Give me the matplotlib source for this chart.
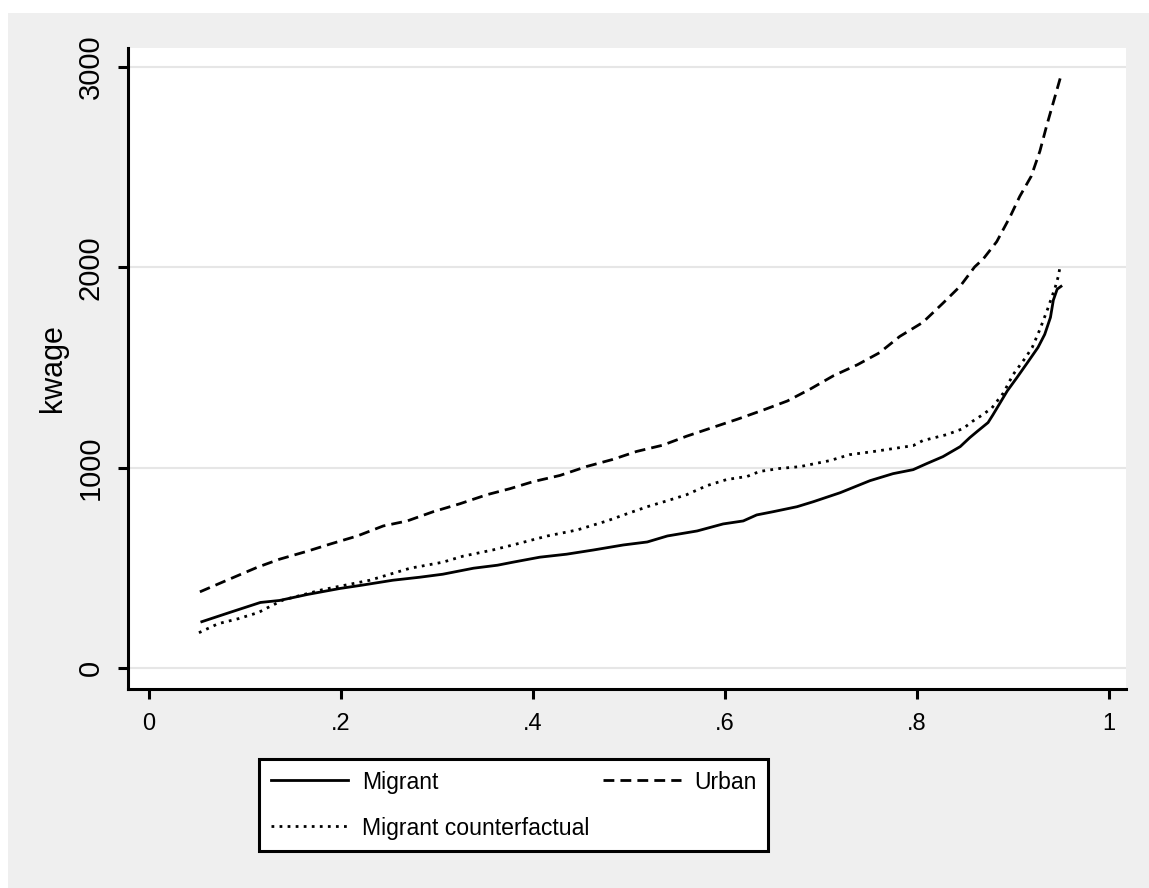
import matplotlib
matplotlib.use("Agg")
import matplotlib.pyplot as plt
from matplotlib import font_manager
from matplotlib.patches import Rectangle

# quantile / wage readings for each group
q_migrant = [0.055, 0.084, 0.116, 0.136, 0.165, 0.199, 0.22, 0.254, 0.282, 0.306,
             0.338, 0.363, 0.379, 0.407, 0.435, 0.463, 0.494, 0.519, 0.54, 0.571,
             0.598, 0.619, 0.633, 0.65, 0.675, 0.692, 0.72, 0.751, 0.775, 0.796,
             0.81, 0.827, 0.845, 0.855, 0.863, 0.874, 0.879, 0.894, 0.904, 0.915,
             0.926, 0.933, 0.939, 0.942, 0.946, 0.95]
w_migrant = [231, 277, 327, 337, 367, 397, 412, 438, 453, 468,
             498, 513, 528, 553, 568, 589, 614, 629, 659, 684,
             719, 734, 764, 780, 805, 830, 875, 935, 970, 990,
             1020, 1055, 1105, 1150, 1182, 1225, 1263, 1383, 1449, 1524,
             1600, 1665, 1750, 1836, 1891, 1905]

q_counter = [0.052, 0.072, 0.093, 0.114, 0.124, 0.14, 0.18, 0.23, 0.251, 0.272,
             0.306, 0.327, 0.358, 0.379, 0.415, 0.446, 0.477, 0.498, 0.519, 0.54,
             0.56, 0.581, 0.602, 0.623, 0.636, 0.657, 0.678, 0.709, 0.73, 0.754,
             0.775, 0.796, 0.806, 0.831, 0.848, 0.858, 0.868, 0.878, 0.89, 0.9,
             0.913, 0.92, 0.928, 0.936, 0.944, 0.947, 0.949]
w_counter = [176, 221, 246, 277, 302, 340, 390, 438, 468, 498,
             528, 558, 589, 614, 659, 689, 734, 770, 805, 835,
             865, 910, 941, 956, 981, 996, 1005, 1035, 1065, 1080,
             1095, 1110, 1135, 1165, 1195, 1232, 1263, 1298, 1373, 1464,
             1549, 1600, 1690, 1791, 1901, 1952, 2002]

q_urban = [0.053, 0.088, 0.113, 0.136, 0.165, 0.189, 0.217, 0.244, 0.269, 0.296,
           0.324, 0.352, 0.376, 0.4, 0.428, 0.456, 0.483, 0.508, 0.535, 0.56,
           0.588, 0.613, 0.64, 0.665, 0.689, 0.713, 0.738, 0.761, 0.782, 0.806,
           0.827, 0.845, 0.86, 0.869, 0.883, 0.897, 0.907, 0.919, 0.928, 0.935,
           0.944, 0.95]
w_urban = [380, 452, 503, 543, 583, 619, 659, 709, 734, 780,
           820, 865, 895, 930, 961, 1006, 1041, 1081, 1112, 1157,
           1202, 1242, 1288, 1333, 1393, 1459, 1514, 1574, 1655, 1725,
           1821, 1906, 2002, 2042, 2128, 2253, 2354, 2455, 2580, 2706,
           2857, 2958]

x_ticks = [0, 0.2, 0.4, 0.6, 0.8, 1.0]
x_tick_labels = ['0', '.2', '.4', '.6', '.8', '1']
y_ticks = [0, 1000, 2000, 3000]
y_tick_labels = ['0', '1000', '2000', '3000']

# Stata-looking text is tall and narrow: use the narrow face when it exists
noms = {f.name for f in font_manager.fontManager.ttflist}
if 'Liberation Sans Narrow' in noms:
    narrow, k = 'Liberation Sans Narrow', 1.0
else:
    narrow, k = 'Liberation Sans', 0.85

gris = '#efefef'

fig = plt.figure(figsize=(11.49, 8.88), dpi=100, facecolor='white')
fig.patches.append(Rectangle((8 / 1149, 0), 1 - 8 / 1149, 1 - 13 / 888,
                             transform=fig.transFigure, facecolor=gris,
                             edgecolor='none', zorder=-10))

ax = fig.add_axes([128 / 1149, 1 - 689 / 888, 998 / 1149, 641 / 888])
ax.set_facecolor('white')

lw = 2.0
ax.plot(q_migrant, w_migrant, color='black', lw=lw, label='Migrant')
ax.plot(q_counter, w_counter, color='black', lw=lw,
        linestyle=(0, (1.0, 1.9)), label='Migrant counterfactual')
ax.plot(q_urban, w_urban, color='black', lw=lw,
        linestyle=(0, (3.9, 2.2)), label='Urban')

ax.set_xlim(-0.0219, 1.0177)
ax.set_ylim(-105, 3095)
ax.set_xticks(x_ticks)
ax.set_xticklabels(x_tick_labels, fontfamily=narrow, fontsize=20 * k)
ax.set_yticks(y_ticks)
ax.set_yticklabels(y_tick_labels, fontfamily='Liberation Sans', fontsize=21,
                   rotation=90, va='center')

ax.grid(axis='y', color='#e6e6e6', lw=1.5)
ax.grid(axis='x', visible=False)
ax.set_axisbelow(True)
for s in ['top', 'right']:
    ax.spines[s].set_visible(False)
for s in ['left', 'bottom']:
    ax.spines[s].set_linewidth(2.2)
ax.tick_params(direction='out', length=7, width=2.2, pad=10)

ax.set_ylabel('kwage', fontfamily='Liberation Sans', fontsize=22)
ax.yaxis.set_label_coords(-0.060, 0.5)

h, l = ax.get_legend_handles_labels()
leg = fig.legend(h, l, ncol=2, loc='upper left',
                 bbox_to_anchor=(259 / 1149, 1 - 759 / 888), borderaxespad=0,
                 prop={'family': narrow, 'size': 19.5 * k},
                 frameon=True, fancybox=False, edgecolor='black',
                 handlelength=3.37, handletextpad=0.6, columnspacing=0.6,
                 labelspacing=1.0, borderpad=0.5)
leg.get_frame().set_linewidth(2.2)
leg.get_frame().set_facecolor('white')
leg.get_frame().set_alpha(None)

plt.savefig('out.png', dpi=100, facecolor='white')
